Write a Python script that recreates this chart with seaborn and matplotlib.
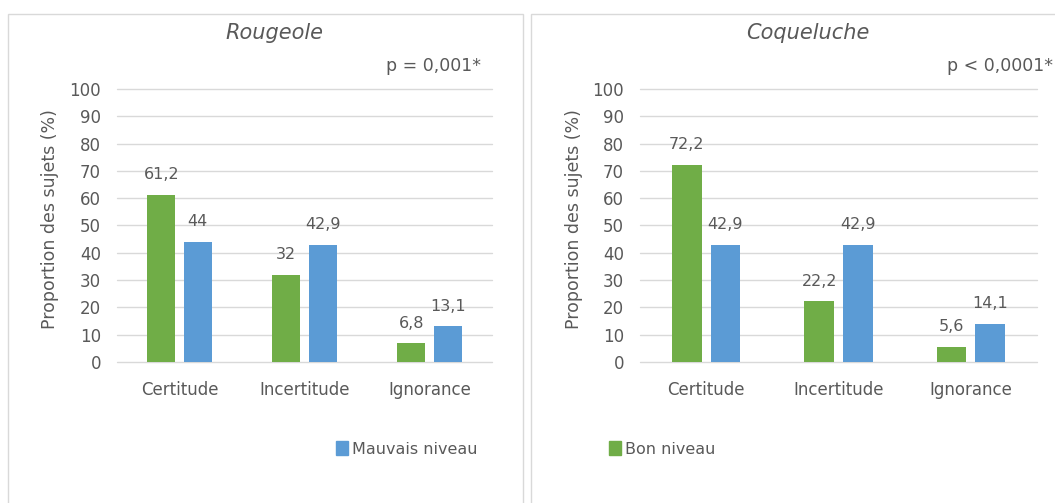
import numpy as np
import pandas as pd
import seaborn as sns
import matplotlib.pyplot as plt
from matplotlib.patches import Rectangle, Patch

# data
categories = ['Certitude', 'Incertitude', 'Ignorance']
niveaux = ['Bon niveau', 'Mauvais niveau']
rougeole_bon = [61.2, 32, 6.8]
rougeole_mauvais = [44, 42.9, 13.1]
coqueluche_bon = [72.2, 22.2, 5.6]
coqueluche_mauvais = [42.9, 42.9, 14.1]
titles = ['Rougeole', 'Coqueluche']
pvalues = ['p = 0,001*', 'p < 0,0001*']

green = '#70AD47'
blue = '#5B9BD5'
txt = '#595959'
grid = '#D9D9D9'


def long_df(bon, mauvais):
    return pd.DataFrame({
        'categorie': categories * 2,
        'niveau': [niveaux[0]] * 3 + [niveaux[1]] * 3,
        'valeur': list(bon) + list(mauvais),
    })


sns.set_theme(style='white')
plt.rcParams['font.family'] = ['DejaVu Sans']

W, H = 1055, 503
fig = plt.figure(figsize=(W / 100, H / 100), dpi=100)

# panel frames (Excel style chart areas)
fig.add_artist(Rectangle((8 / W, -0.05), 515 / W, 1 - 14 / H + 0.05,
                         transform=fig.transFigure, fill=False,
                         edgecolor=grid, linewidth=1))
fig.add_artist(Rectangle((531 / W, -0.05), 0.6, 1 - 14 / H + 0.05,
                         transform=fig.transFigure, fill=False,
                         edgecolor=grid, linewidth=1))

axes_px = [(117, 492), (640, 1037)]
datasets = [long_df(rougeole_bon, rougeole_mauvais),
            long_df(coqueluche_bon, coqueluche_mauvais)]

for i, ((x0, x1), df) in enumerate(zip(axes_px, datasets)):
    ax = fig.add_axes([x0 / W, 1 - 362 / H, (x1 - x0) / W, (362 - 89) / H])
    sns.barplot(data=df, x='categorie', y='valeur', hue='niveau',
                palette=[green, blue], width=0.584, gap=0.23,
                ax=ax, legend=False, errorbar=None, saturation=1,
                linewidth=0)
    for c in ax.containers:
        labels = [f"{b.get_height():g}".replace('.', ',') for b in c]
        ax.bar_label(c, labels=labels, padding=9, fontsize=11.5, color=txt)
    ax.set_ylim(0, 100)
    ax.set_yticks(np.arange(0, 101, 10))
    for yv in ax.get_yticks():
        ax.axhline(yv, color=grid, linewidth=1, zorder=0, clip_on=False)
    for s in ax.spines.values():
        s.set_visible(False)
    ax.tick_params(axis='both', length=0, colors=txt, labelsize=12)
    ax.tick_params(axis='y', pad=11.5)
    ax.tick_params(axis='x', pad=14)
    ax.set_xlabel('')
    ax.set_ylabel('')

# titles, p-values, y labels
fig.text(274 / W, 1 - 33 / H, titles[0], ha='center', va='center',
         fontsize=15, style='italic', color=txt)
fig.text(808 / W, 1 - 33 / H, titles[1], ha='center', va='center',
         fontsize=15, style='italic', color=txt)
fig.text(481 / W, 1 - 66 / H, pvalues[0], ha='right', va='center',
         fontsize=12.5, color=txt)
fig.text(1053 / W, 1 - 66 / H, pvalues[1], ha='right', va='center',
         fontsize=12.5, color=txt)
for xl in (50, 574):
    fig.text(xl / W, 1 - 219 / H, 'Proportion des sujets (%)', rotation=90,
             ha='center', va='center', fontsize=12.5, color=txt)

# the legend is split between the two panels
leg_kw = dict(frameon=False, handlelength=0.7, handleheight=0.9,
              handletextpad=0.3, fontsize=11.5, labelcolor=txt,
              loc='center left', bbox_transform=fig.transFigure)
fig.legend(handles=[Patch(color=blue, label=niveaux[1])],
           bbox_to_anchor=(322 / W, 1 - 449 / H), **leg_kw)
fig.legend(handles=[Patch(color=green, label=niveaux[0])],
           bbox_to_anchor=(595 / W, 1 - 449 / H), **leg_kw)

fig.savefig('out.png', dpi=100)
